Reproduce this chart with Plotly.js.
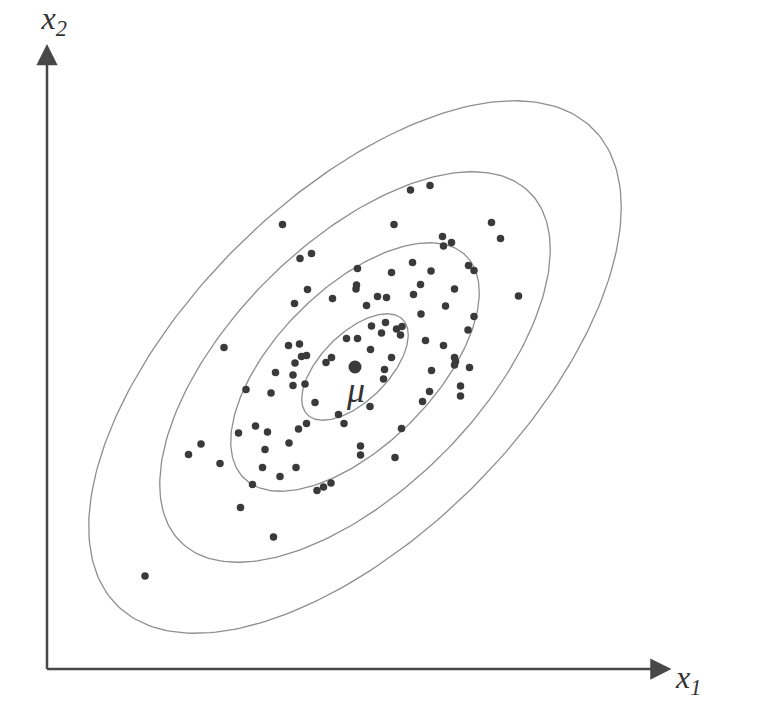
<!DOCTYPE html>
<html>
<head>
<meta charset="utf-8">
<script src="https://cdn.plot.ly/plotly-3.0.1.min.js"></script>
<style>
  html, body { margin: 0; padding: 0; background: #ffffff; }
  #chart { width: 775px; height: 717px; }
</style>
</head>
<body>
<div id="chart"></div>
<script>
// Samples drawn from a bivariate normal density (feature space x1, x2)
const sampleX1 = [
  7.27, 7.66, 4.71, 6.94, 8.89, 9.07, 7.91, 8.09, 7.93, 5.06,
  5.29, 6.21, 7.31, 6.89, 7.68, 8.43, 8.54, 6.19, 6.18, 5.21,
  4.95, 5.71, 6.61, 6.79, 6.39, 7.33, 7.47, 8.15, 7.97, 7.48,
  8.54, 8.42, 6.49, 6.77, 6.69, 6.99, 7.10, 7.07, 5.99, 6.21,
  7.57, 7.93, 4.83, 5.05, 5.09, 5.19, 4.96, 6.47, 6.89, 8.15,
  8.17, 8.15, 5.58, 5.69, 8.45, 7.69, 6.75, 6.73, 4.57, 4.92,
  4.92, 5.16, 4.48, 7.65, 8.27, 8.27, 7.51, 3.54, 3.98, 5.36,
  5.83, 5.94, 5.19, 5.03, 4.17, 4.41, 3.83, 4.84, 4.36, 3.08,
  2.83, 4.31, 4.98, 4.66, 3.46, 4.11, 5.40, 5.53, 5.68, 3.87,
  4.53, 6.46, 7.09, 6.27, 6.27, 6.96, 9.43, 1.96
];
const sampleX2 = [
  9.58, 9.67, 8.89, 8.89, 8.93, 8.61, 8.65, 8.53, 8.46, 8.21,
  8.31, 8.01, 8.13, 7.93, 7.96, 8.07, 7.97, 7.68, 7.60, 7.59,
  7.31, 7.41, 7.45, 7.43, 7.27, 7.49, 7.69, 7.60, 7.26, 7.10,
  7.05, 6.78, 6.86, 6.93, 6.72, 6.80, 6.85, 6.68, 6.61, 6.61,
  6.57, 6.47, 6.47, 6.50, 6.25, 6.27, 6.12, 6.39, 6.23, 6.23,
  6.15, 6.08, 6.13, 6.23, 6.03, 5.97, 5.99, 5.80, 5.93, 5.88,
  5.67, 5.70, 5.52, 5.55, 5.66, 5.46, 5.35, 6.43, 5.59, 5.33,
  5.09, 4.91, 4.91, 4.80, 4.86, 4.74, 4.72, 4.52, 4.39, 4.50,
  4.29, 4.03, 4.03, 3.85, 4.11, 3.69, 3.57, 3.64, 3.72, 3.23,
  2.64, 5.25, 4.81, 4.46, 4.28, 4.23, 7.46, 1.86
];

// Density parameters: mean vector and covariance (std devs + correlation)
const mu = [6.16, 6.04];
const sigma = [1.42, 1.42];
const rho = 0.6;

// Mahalanobis distances of the constant-density contours
const contourLevels = [0.75, 1.75, 2.75, 3.75];

// Axis extents and where the axis labels sit (the arrows end at the labels)
const xMax = 12.6, yMax = 12.6;
const x1LabelAt = 12.82;
const x2LabelAt = 12.98;

function ellipse(r) {
  const xs = [], ys = [];
  const k = Math.sqrt(1 - rho * rho);
  const n = 240;
  for (let i = 0; i <= n; i++) {
    const t = 2 * Math.PI * i / n;
    const u = Math.cos(t), v = Math.sin(t);
    xs.push(mu[0] + r * sigma[0] * u);
    ys.push(mu[1] + r * sigma[1] * (rho * u + k * v));
  }
  return { x: xs, y: ys };
}

const traces = contourLevels.map(r => {
  const e = ellipse(r);
  return {
    type: 'scatter', mode: 'lines', x: e.x, y: e.y,
    line: { color: '#8e8e8e', width: 1.3 },
    hoverinfo: 'skip', showlegend: false
  };
});

traces.push({
  type: 'scatter', mode: 'markers', x: sampleX1, y: sampleX2,
  marker: { size: 7.5, color: '#3a3a3a' },
  showlegend: false
});

traces.push({
  type: 'scatter', mode: 'markers', x: [mu[0]], y: [mu[1]],
  marker: { size: 13, color: '#3a3a3a' },
  showlegend: false
});

const serif = 'Liberation Serif, Times New Roman, serif';
const labelFont = { family: serif, size: 32, color: '#333333' };

// Each axis is an arrow running from the origin out to its label
const axisArrow = {
  xref: 'x', yref: 'y', axref: 'x', ayref: 'y',
  showarrow: true, arrowside: 'start',
  startarrowhead: 2, startarrowsize: 1.7, arrowwidth: 2.5,
  arrowcolor: '#484848', startstandoff: 2, font: labelFont
};

const layout = {
  width: 775, height: 717,
  margin: { l: 47, r: 98, t: 39, b: 48, pad: 0 },
  paper_bgcolor: '#ffffff', plot_bgcolor: '#ffffff',
  showlegend: false,
  xaxis: { range: [0, xMax], visible: false, fixedrange: true },
  yaxis: { range: [0, yMax], visible: false, fixedrange: true },
  annotations: [
    Object.assign({}, axisArrow, {
      x: 0, y: 0, ax: x1LabelAt, ay: 0,
      text: '<i>x<sub>1</sub></i>', height: 62, valign: 'bottom'
    }),
    Object.assign({}, axisArrow, {
      x: 0, y: 0, ax: 0, ay: x2LabelAt,
      text: '<i>x<sub>2</sub></i>', width: 40, align: 'right'
    }),
    { x: mu[0], y: mu[1], xref: 'x', yref: 'y', xanchor: 'center', yanchor: 'middle',
      yshift: -23, text: '<i>μ</i>', showarrow: false,
      font: { family: serif, size: 36, color: '#333333' } }
  ]
};

Plotly.newPlot('chart', traces, layout, { staticPlot: true, displayModeBar: false });
</script>
</body>
</html>
